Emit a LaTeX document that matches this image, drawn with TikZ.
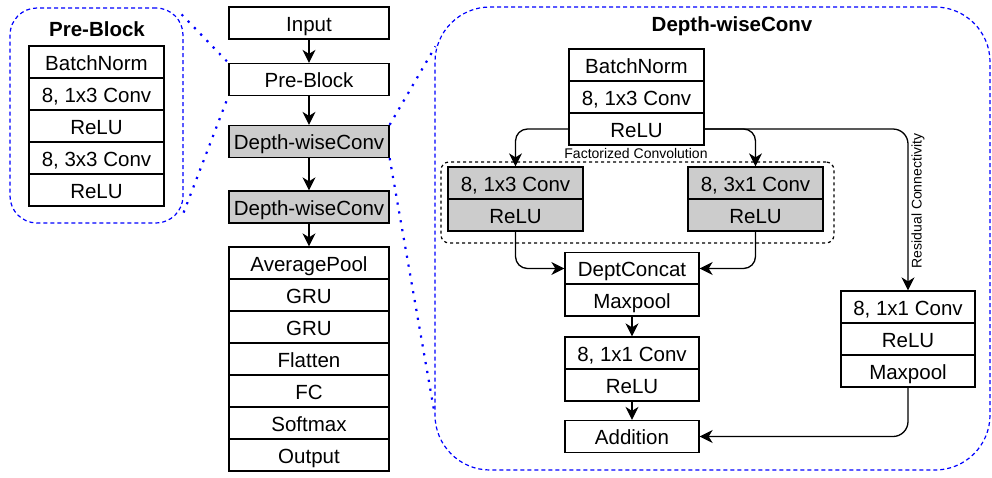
\documentclass[tikz,border=0pt]{standalone}
\usepackage{fontspec}
\setmainfont{Liberation Sans}
\usetikzlibrary{arrows.meta}
\definecolor{grayfill}{HTML}{CCCCCC}
\definecolor{frameblue}{HTML}{0000FF}
\begin{document}
\begin{tikzpicture}[x=1pt,y=-1pt,
  cell/.style={draw, line width=1.3pt, minimum width=#1, minimum height=32pt, inner sep=0pt,
    font=\fontsize{20.5}{24}\selectfont, text height=18.5pt, text depth=2.5pt},
  cell/.default=135pt,
  gcell/.style={cell=#1, fill=grayfill},
  gcell/.default=135pt,
  frame/.style={draw=frameblue, line width=1.2pt, dash pattern=on 4pt off 3pt, inner sep=0pt},
  titletext/.style={font=\fontsize{20.5}{24}\selectfont\bfseries, inner sep=0pt},
  smalltext/.style={font=\fontsize{14}{16}\selectfont, inner sep=0pt},
  dotl/.style={draw=frameblue, line width=2.2pt, dash pattern=on 2.2pt off 6.8pt},
  arr/.style={-{Stealth[length=13pt,width=13pt,inset=4pt]}, line width=1.3pt},
]
\useasboundingbox (0,0) rectangle (992,477);

% ---------- frames ----------
\node[frame, minimum width=173pt, minimum height=215pt, rounded corners=27pt] (pbf) at (96.5,115.5) {};
\node[frame, minimum width=555pt, minimum height=463pt, rounded corners=55pt] (dwf) at (712.5,238.5) {};
\node[titletext] (pbt) at (97,29) {Pre-Block};
\node[titletext] (dwt) at (732,26) {Depth-wiseConv};

% ---------- Pre-Block detail ----------
\node[cell] (p1) at (96.5,62) {BatchNorm};
\node[cell] (p2) at (96.5,94) {8, 1x3 Conv};
\node[cell] (p3) at (96.5,126) {ReLU};
\node[cell] (p4) at (96.5,158) {8, 3x3 Conv};
\node[cell] (p5) at (96.5,190) {ReLU};

% ---------- main column ----------
\node[cell=160pt] (in) at (309,23) {Input};
\node[cell=160pt] (pb) at (309,79.5) {Pre-Block};
\node[gcell=160pt] (dw1) at (309,141.5) {Depth-wiseConv};
\node[gcell=160pt] (dw2) at (309,207) {Depth-wiseConv};
\node[cell=160pt] (avg) at (309,263) {AveragePool};
\node[cell=160pt] (gru1) at (309,295) {GRU};
\node[cell=160pt] (gru2) at (309,327) {GRU};
\node[cell=160pt] (fl) at (309,359) {Flatten};
\node[cell=160pt] (fc) at (309,391) {FC};
\node[cell=160pt] (sm) at (309,423) {Softmax};
\node[cell=160pt] (out) at (309,455) {Output};

\draw[arr] (in.south) -- (pb.north);
\draw[arr] (pb.south) -- (dw1.north);
\draw[arr] (dw1.south) -- (dw2.north);
\draw[arr] (dw2.south) -- (avg.north);

% ---------- dotted zoom lines ----------
\draw[dotl] ([shift={(-2,7)}]pbf.north east) -- (pb.north west);
\draw[dotl] ([shift={(0,-11)}]pbf.south east) -- (pb.south west);
\draw[dotl] (dw1.north east) -- ([shift={(1,40)}]dwf.north west);
\draw[dotl] (dw1.south east) -- ([shift={(0,-58)}]dwf.south west);

% ---------- Depth-wise detail ----------
\node[cell] (t1) at (636.5,65) {BatchNorm};
\node[cell] (t2) at (636.5,97) {8, 1x3 Conv};
\node[cell] (t3) at (636.5,129) {ReLU};

\node[draw, line width=1.2pt, dashed, rounded corners=8pt, minimum width=393pt, minimum height=81pt, inner sep=0pt] (fz) at (637.5,202.5) {};
\node[smalltext] (fzl) at (636,153) {Factorized Convolution};

\node[gcell] (b1) at (515.5,183) {8, 1x3 Conv};
\node[gcell] (b2) at (515.5,215) {ReLU};
\node[gcell] (c1) at (755.5,183) {8, 3x1 Conv};
\node[gcell] (c2) at (755.5,215) {ReLU};

\node[cell=134pt] (dc) at (632,268.5) {DeptConcat};
\node[cell=134pt] (mp) at (632,300) {Maxpool};
\node[cell=134pt] (cv) at (632,353) {8, 1x1 Conv};
\node[cell=134pt] (rl) at (632,385) {ReLU};
\node[cell=134pt] (ad) at (632,436.5) {Addition};

\node[cell=134pt] (r1) at (908,307) {8, 1x1 Conv};
\node[cell=134pt] (r2) at (908,339) {ReLU};
\node[cell=134pt] (r3) at (908,371) {Maxpool};

\node[smalltext, rotate=90] (rc) at (918,201) {Residual Connectivity};

\draw[arr, rounded corners=12pt] (t3.west) -| (b1.north);
\draw[arr, rounded corners=12pt] (t3.east) -| (c1.north);
\draw[arr, rounded corners=15pt] (t3.east) -| (r1.north);
\draw[arr, rounded corners=12pt] (b2.south) |- (dc.west);
\draw[arr, rounded corners=12pt] (c2.south) |- (dc.east);
\draw[arr] (mp.south) -- (cv.north);
\draw[arr] (rl.south) -- (ad.north);
\draw[arr, rounded corners=15pt] (r3.south) |- (ad.east);
\end{tikzpicture}
\end{document}
